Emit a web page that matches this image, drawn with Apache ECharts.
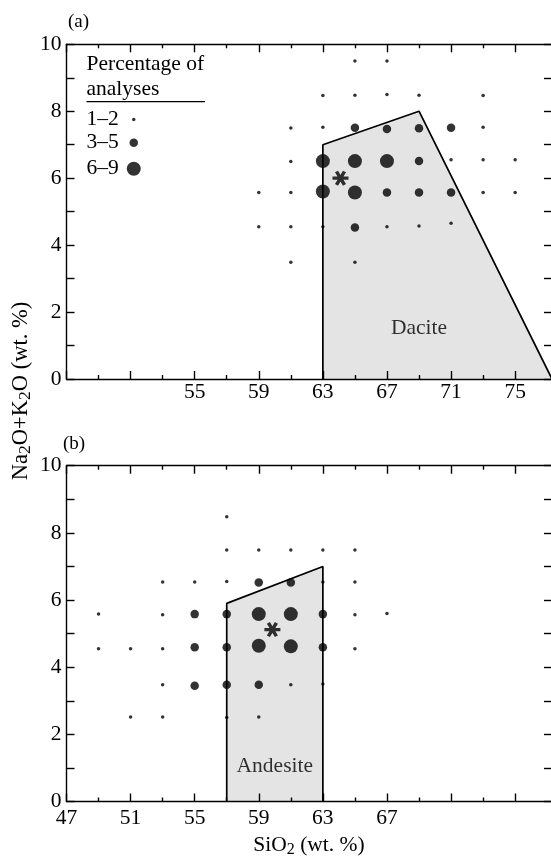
<!DOCTYPE html>
<html>
<head>
<meta charset="utf-8">
<script src="https://cdn.jsdelivr.net/npm/echarts@6/dist/echarts.min.js"></script>
<style>
html,body{margin:0;padding:0;background:#fff;}
#chart{width:551px;height:859px;}
</style>
</head>
<body>
<div id="chart"></div>
<script>
// ---------- data ----------
const xMajorTicks = [47, 51, 55, 59, 63, 67, 71, 75];
const xMinorTicks = [49, 53, 57, 61, 65, 69, 73];
const xLabelsA = [55, 59, 63, 67, 71, 75];
const xLabelsB = [47, 51, 55, 59, 63, 67];
const yTicks = [0, 1, 2, 3, 4, 5, 6, 7, 8, 9, 10];
const yLabels = [0, 2, 4, 6, 8, 10];
const legendNames = ['1–2', '3–5', '6–9'];

const daciteField = [[63, 0], [63, 7], [69, 8], [77.3, 0]];
const andesiteField = [[57, 0], [57, 5.9], [63, 7], [63, 0]];

const aSmall = [
  [65, 9.5], [67, 9.5],
  [63, 8.47], [65, 8.48], [67, 8.5], [69, 8.48], [73, 8.47],
  [61, 7.5], [63, 7.52], [73, 7.52],
  [61, 6.5], [71, 6.55], [73, 6.55], [75, 6.55],
  [59, 5.57], [61, 5.57], [73, 5.57], [75, 5.57],
  [59, 4.55], [61, 4.55], [63, 4.55], [67, 4.55], [69, 4.57], [71, 4.65],
  [61, 3.49], [65, 3.49]
];
const aMedium = [
  [65, 7.51], [67, 7.47], [69, 7.49], [71, 7.51],
  [69, 6.51],
  [67, 5.57], [69, 5.57], [71, 5.57],
  [65, 4.53]
];
const aLarge = [[63, 6.51], [65, 6.51], [67, 6.51], [63, 5.6], [65, 5.57]];
const aStar = [[64.1, 6.0]];
const aFieldName = [[69, 1.5]];

const bSmall = [
  [57, 8.48],
  [57, 7.49], [59, 7.49], [61, 7.49], [63, 7.49], [65, 7.49],
  [53, 6.54], [55, 6.54], [57, 6.55], [63, 6.54], [65, 6.54],
  [49, 5.58], [53, 5.56], [65, 5.56], [67, 5.6],
  [49, 4.55], [51, 4.55], [53, 4.55], [65, 4.55],
  [53, 3.48], [61, 3.48], [63, 3.5],
  [51, 2.52], [53, 2.52], [57, 2.5], [59, 2.52]
];
const bMedium = [
  [59, 6.52], [61, 6.52],
  [55, 5.58], [57, 5.58], [63, 5.58],
  [55, 4.59], [57, 4.59], [63, 4.59],
  [55, 3.45], [57, 3.48], [59, 3.48]
];
const bLarge = [[59, 5.58], [61, 5.58], [59, 4.64], [61, 4.62]];
const bStar = [[59.85, 5.12]];
const bFieldName = [[60, 1.05]];

// ---------- styling ----------
const FONT = 'Liberation Serif';
const BLACK = '#000';
const LW = 1.4;
const SIZES = [3.5, 8.5, 14];
const STAR = 'path://M0 39L100 39L100 61L0 61Z M34.5 1.2L84.5 87.8L65.5 98.8L15.5 12.2Z M84.5 12.2L34.5 98.8L15.5 87.8L65.5 1.2Z';

function xAxes(g, labels, margin) {
  const base = {gridIndex: g, type: 'value', min: 47, max: 77.3, splitLine: {show: false}, z: 10};
  const line = {color: BLACK, width: LW};
  return [
    Object.assign({}, base, {position: 'bottom',
      axisLine: {show: true, onZero: false, lineStyle: line},
      axisTick: {show: true, inside: true, length: 8, customValues: xMajorTicks, lineStyle: line},
      axisLabel: {show: true, customValues: labels, margin: margin, color: BLACK, fontFamily: FONT, fontSize: 21.5}}),
    Object.assign({}, base, {position: 'bottom',
      axisLine: {show: false, onZero: false},
      axisTick: {show: true, inside: true, length: 4, customValues: xMinorTicks, lineStyle: line},
      axisLabel: {show: false}}),
    Object.assign({}, base, {position: 'top',
      axisLine: {show: true, onZero: false, lineStyle: line},
      axisTick: {show: true, inside: true, length: 8, customValues: xMajorTicks, lineStyle: line},
      axisLabel: {show: false}}),
    Object.assign({}, base, {position: 'top',
      axisLine: {show: false, onZero: false},
      axisTick: {show: true, inside: true, length: 4, customValues: xMinorTicks, lineStyle: line},
      axisLabel: {show: false}})
  ];
}
function yAxes(g) {
  const base = {gridIndex: g, type: 'value', min: 0, max: 10, splitLine: {show: false}, z: 10};
  const line = {color: BLACK, width: LW};
  return [
    Object.assign({}, base, {position: 'left',
      axisLine: {show: true, onZero: false, lineStyle: line},
      axisTick: {show: true, inside: true, length: 8, customValues: yTicks, lineStyle: line},
      axisLabel: {show: true, customValues: yLabels, margin: 5, color: BLACK, fontFamily: FONT, fontSize: 21.5}}),
    Object.assign({}, base, {position: 'right',
      axisLine: {show: true, onZero: false, lineStyle: line},
      axisTick: {show: true, inside: true, length: 8, customValues: yTicks, lineStyle: line},
      axisLabel: {show: false}})
  ];
}
function panelSeries(g, field, small, medium, large, star, namePt, nameText) {
  const xi = g * 4, yi = g * 2;
  const common = {xAxisIndex: xi, yAxisIndex: yi, silent: true, emphasis: {disabled: true}};
  return [
    Object.assign({type: 'line', data: field, symbol: 'none', z: 1,
      lineStyle: {color: BLACK, width: 1.7}, areaStyle: {color: '#e4e4e4', opacity: 1}}, common),
    Object.assign({type: 'scatter', name: legendNames[0], data: small, symbol: 'circle', symbolSize: SIZES[0], itemStyle: {color: BLACK}, z: 3}, common),
    Object.assign({type: 'scatter', name: legendNames[1], data: medium, symbol: 'circle', symbolSize: SIZES[1], itemStyle: {color: BLACK}, z: 3}, common),
    Object.assign({type: 'scatter', name: legendNames[2], data: large, symbol: 'circle', symbolSize: SIZES[2], itemStyle: {color: BLACK}, z: 3}, common),
    Object.assign({type: 'scatter', name: 'mean', data: star, symbol: STAR, symbolSize: [16, 15], itemStyle: {color: BLACK}, z: 4}, common),
    Object.assign({type: 'scatter', name: nameText, data: namePt, symbol: 'circle', symbolSize: 1,
      itemStyle: {color: 'rgba(0,0,0,0)'}, z: 4,
      label: {show: true, position: 'inside', formatter: nameText, color: BLACK, fontFamily: FONT, fontSize: 21.5}}, common)
  ];
}

const legendTops = [108.5, 131.8, 157.8];
const option = {
  animation: false,
  backgroundColor: '#fff',
  grid: [
    {left: 66.5, top: 44.3, width: 485.5, height: 334.7, containLabel: false, outerBoundsMode: 'none'},
    {left: 66.5, top: 465.7, width: 485.5, height: 335.8, containLabel: false, outerBoundsMode: 'none'}
  ],
  xAxis: xAxes(0, xLabelsA, 2).concat(xAxes(1, xLabelsB, 6)),
  yAxis: yAxes(0).concat(yAxes(1)),
  legend: legendNames.map((n, i) => ({
    data: [n], left: 86.5, top: legendTops[i], orient: 'vertical', align: 'right',
    itemWidth: 20, itemHeight: SIZES[i], padding: 0, selectedMode: false, icon: 'circle',
    textStyle: {fontFamily: FONT, fontSize: 21.5, color: BLACK}
  })),
  series: panelSeries(0, daciteField, aSmall, aMedium, aLarge, aStar, aFieldName, 'Dacite')
    .concat(panelSeries(1, andesiteField, bSmall, bMedium, bLarge, bStar, bFieldName, 'Andesite')),
  graphic: [
    {type: 'text', x: 68, y: 22, style: {text: '(a)', fontFamily: FONT, fontSize: 19, fill: BLACK, align: 'left', verticalAlign: 'middle'}},
    {type: 'text', x: 63, y: 444, style: {text: '(b)', fontFamily: FONT, fontSize: 19, fill: BLACK, align: 'left', verticalAlign: 'middle'}},
    {type: 'text', x: 86.5, y: 64, style: {text: 'Percentage of', fontFamily: FONT, fontSize: 21.5, fill: BLACK, align: 'left', verticalAlign: 'middle'}},
    {type: 'text', x: 86.5, y: 89, style: {text: 'analyses', fontFamily: FONT, fontSize: 21.5, fill: BLACK, align: 'left', verticalAlign: 'middle'}},
    {type: 'line', shape: {x1: 86.5, y1: 101.7, x2: 205, y2: 101.7}, style: {stroke: BLACK, lineWidth: 1.3}},
    {type: 'text', x: 309, y: 845, style: {
      text: '{m|SiO}{s|2}{m| (wt. %)}', align: 'center', verticalAlign: 'middle', fill: BLACK,
      rich: {m: {fontFamily: FONT, fontSize: 21.5, lineHeight: 26, fill: BLACK},
             s: {fontFamily: FONT, fontSize: 16, lineHeight: 16, verticalAlign: 'bottom', fill: BLACK}}}},
    {type: 'text', x: 21, y: 391, rotation: Math.PI / 2, style: {
      text: '{m|Na}{s|2}{m|O+K}{s|2}{m|O (wt. %)}', align: 'center', verticalAlign: 'middle', fill: BLACK,
      rich: {m: {fontFamily: FONT, fontSize: 22.5, lineHeight: 27, fill: BLACK},
             s: {fontFamily: FONT, fontSize: 17.5, lineHeight: 17, verticalAlign: 'bottom', fill: BLACK}}}}
  ]
};
const chart = echarts.init(document.getElementById('chart'), null, {renderer: 'canvas'});
chart.setOption(option);
</script>
</body>
</html>
